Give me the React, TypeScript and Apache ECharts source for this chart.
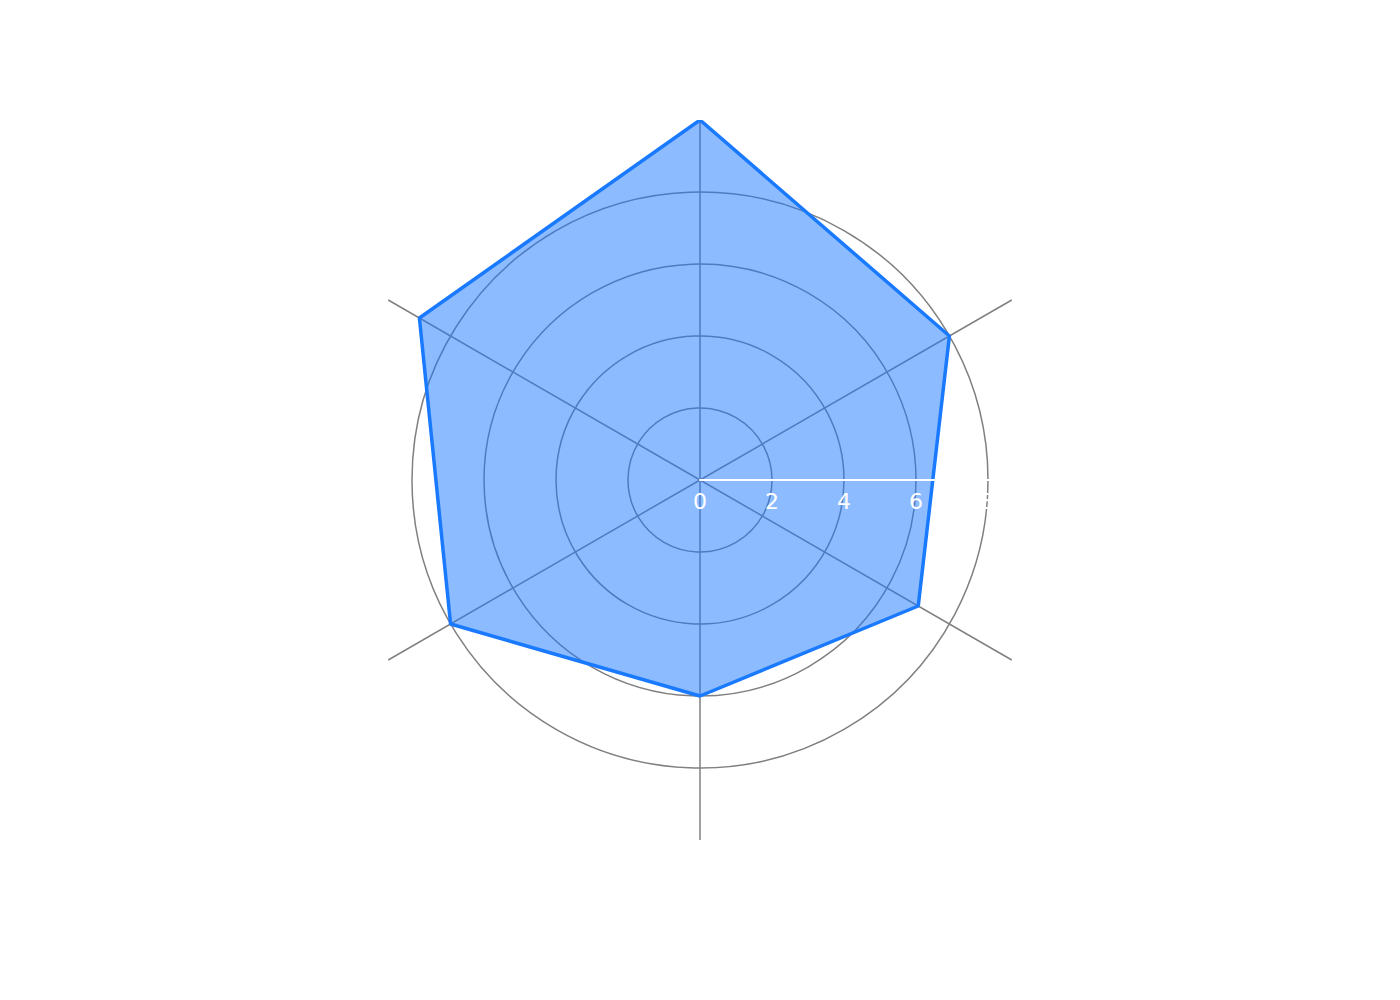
import { useRef, useEffect } from "react";
import * as echarts from "echarts";

// 角度（度，从正上方顺时针）与对应数值
const thetas = [0, 60, 120, 180, 240, 300, 360];
const values = [10, 8, 7, 6, 8, 9, 10];
const radiusTicks = [0, 2, 4, 6, 8, 10];

const GRID = "#808080";

const App = () => {
  const chartRef = useRef<HTMLDivElement>(null);

  useEffect(() => {
    const myChart = echarts.init(chartRef.current, null, { renderer: "svg" });

    const center = [692, 472];
    const option = {
      animation: false,
      textStyle: { fontFamily: "DejaVu Sans" },
      polar: [
        { center, radius: 360 },
        { center, radius: 360 },
      ],
      angleAxis: [
        {
          polarIndex: 0,
          type: "value",
          min: 0,
          max: 360,
          interval: 60,
          startAngle: 90,
          clockwise: true,
          axisLine: { show: false },
          axisTick: { show: false },
          axisLabel: { show: false },
          splitLine: { show: true, lineStyle: { color: GRID, width: 1.5 } },
        },
        {
          polarIndex: 1,
          type: "value",
          min: 0,
          max: 360,
          startAngle: 0,
          axisLine: { show: false },
          axisTick: { show: false },
          axisLabel: { show: false },
          splitLine: { show: false },
        },
      ],
      radiusAxis: [
        {
          polarIndex: 0,
          type: "value",
          min: radiusTicks[0],
          max: radiusTicks[radiusTicks.length - 1],
          interval: 2,
          axisLine: { show: false },
          axisTick: { show: false },
          axisLabel: { show: false },
          splitLine: {
            show: true,
            lineStyle: {
              color: radiusTicks.map((t, i) =>
                i === radiusTicks.length - 1 ? "rgba(0,0,0,0)" : GRID
              ),
              width: 1.5,
            },
          },
        },
        {
          polarIndex: 1,
          type: "value",
          min: radiusTicks[0],
          max: radiusTicks[radiusTicks.length - 1],
          interval: 2,
          z: 10,
          axisLine: { show: true, lineStyle: { color: "#ffffff", width: 2 } },
          axisTick: { show: false },
          axisLabel: {
            show: true,
            color: "#ffffff",
            fontSize: 22,
            margin: -32,
            fontFamily: "DejaVu Sans",
          },
          splitLine: { show: false },
        },
      ],
      series: [
        {
          type: "line",
          coordinateSystem: "polar",
          polarIndex: 0,
          data: thetas.map((t, i) => [values[i], t]),
          symbol: "none",
          lineStyle: { color: "#1a7aff", width: 3.5 },
          areaStyle: { color: "rgba(26,122,255,0.5)", opacity: 1, origin: "start" },
        },
      ],
    };

    myChart.setOption(option);

    return () => {
      myChart.dispose();
    };
  }, []);

  return <div ref={chartRef} style={{ width: "1400px", height: "1000px" }}></div>;
};

export default App;
